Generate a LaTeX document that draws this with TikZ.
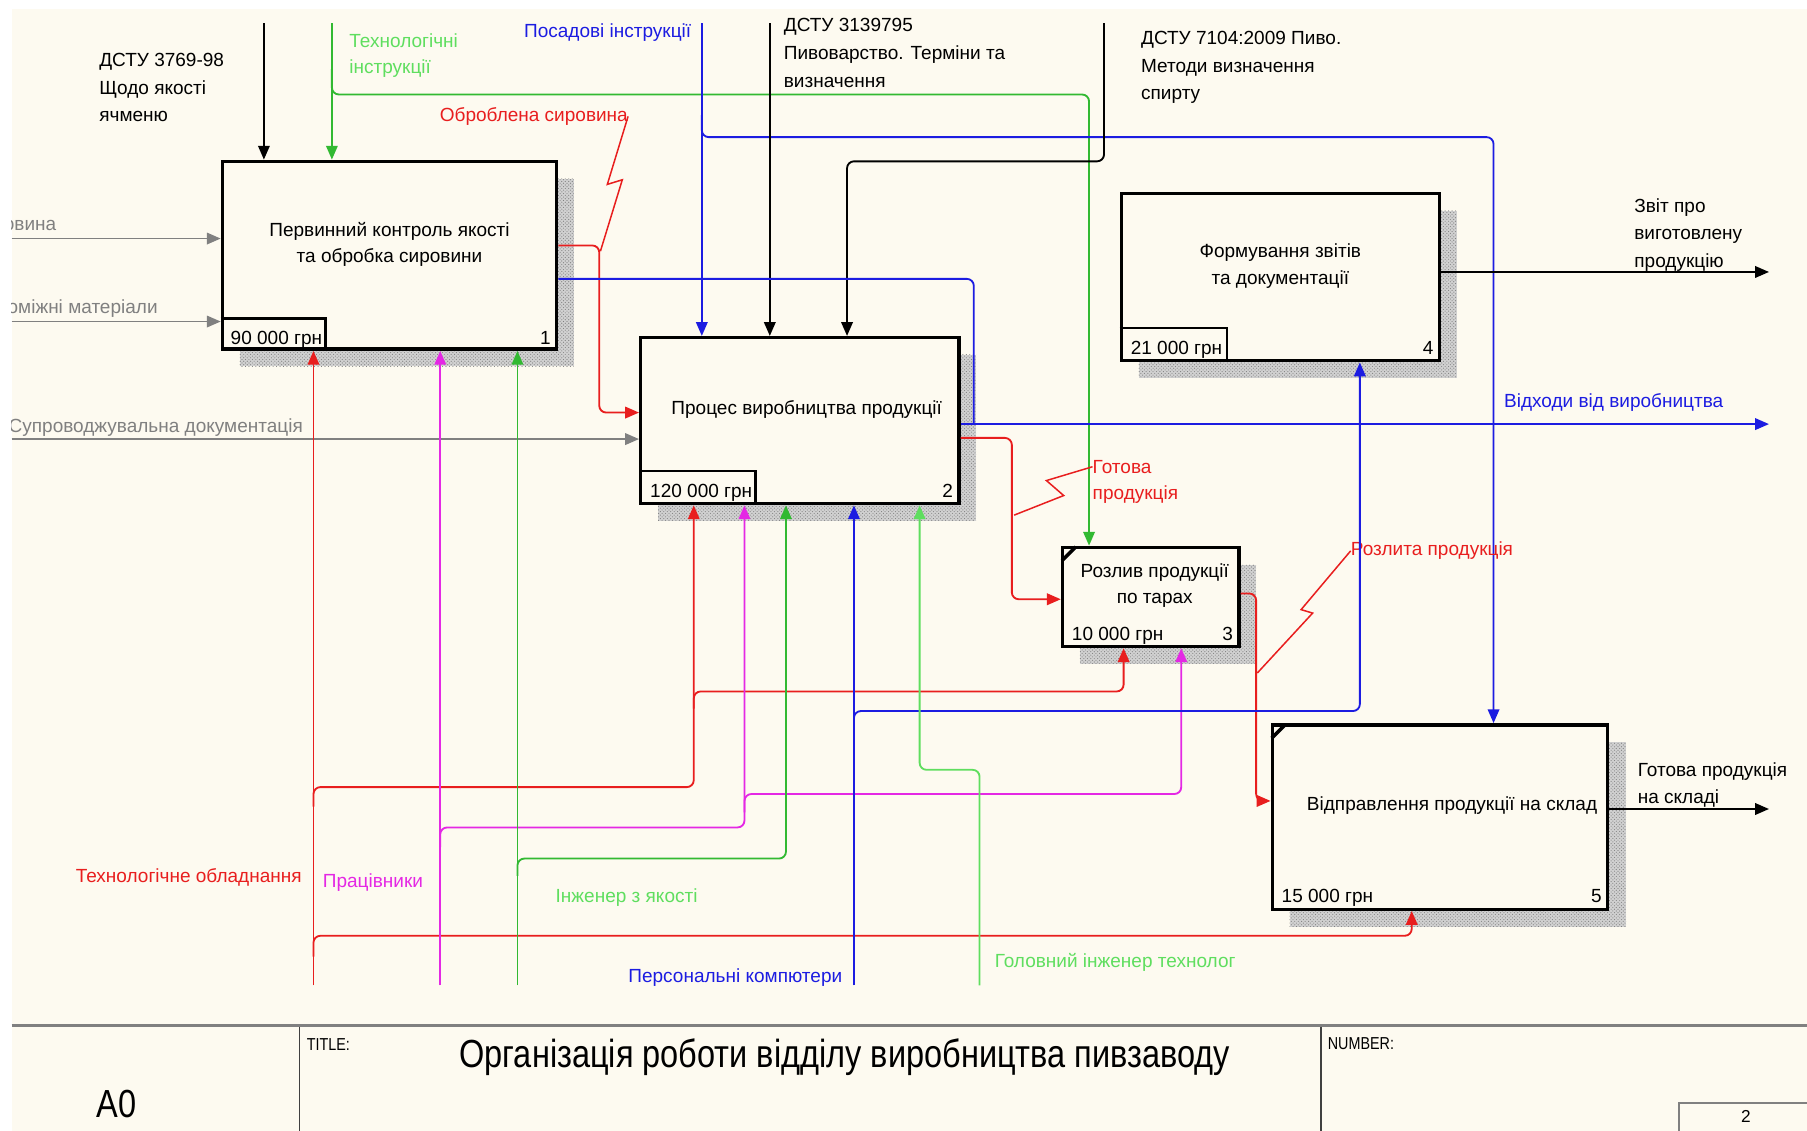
\documentclass[tikz,border=0pt]{standalone}
\usepackage{fontspec}
\setmainfont{Liberation Sans}
\newfontfamily\narrowsans[FakeStretch=0.83]{Liberation Sans}
\usetikzlibrary{arrows.meta,patterns,calc}

\definecolor{paper}{RGB}{253,250,240}
\definecolor{ired}{RGB}{232,30,30}
\definecolor{iblue}{RGB}{28,28,225}
\definecolor{imag}{RGB}{228,40,228}
\definecolor{igreen}{RGB}{50,185,50}
\definecolor{ilgreen}{RGB}{95,222,95}
\definecolor{igray}{RGB}{128,128,128}

\begin{document}
\begin{tikzpicture}[x=1pt,y=-1pt,
  tip/.style={-{Triangle[length=12pt,width=10pt]}},
  link/.style={line width=1.6pt, rounded corners=6pt},
  proc/.style={draw, line width=3pt, fill=paper, inner sep=0pt},
  shade/.style={fill=black!18, postaction={pattern=crosshatch dots, pattern color=black!50}},
  boxtext/.style={inner sep=0pt, align=center, font=\fontsize{16.5}{23}\selectfont},
  costtext/.style={inner sep=0pt, anchor=base west, font=\fontsize{16.5}{18}\selectfont},
  numtext/.style={inner sep=0pt, anchor=base east, font=\fontsize{16.5}{18}\selectfont},
  lbl/.style={inner sep=0pt, align=left, font=\fontsize{16.5}{24}\selectfont},
  lblb/.style={inner sep=0pt, align=left, font=\fontsize{16.5}{23}\selectfont},
  tab/.style={line width=2pt},
  corner/.style={line width=3pt}
]
\useasboundingbox (0,0) rectangle (1568,981);
\fill[white] (0,0) rectangle (1568,981);
\fill[paper] (10,8) rectangle (1568,981);

\begin{scope}
\clip (10,8) rectangle (1568,981);

% ---------- activity boxes with their hatched shadows ----------
\fill[shade] (208,155) rectangle (498,318);
\fill[shade] (571,308) rectangle (847,452);
\fill[shade] (937,490) rectangle (1090,576);
\fill[shade] (988,183) rectangle (1264,328);
\fill[shade] (1119,644) rectangle (1411,804);

\node[proc, minimum width=290pt, minimum height=163pt] (b1) at (338,221.5) {};
\node[proc, minimum width=276pt, minimum height=144pt] (b2) at (694,365) {};
\node[proc, minimum width=153pt, minimum height=86pt] (b3) at (998.5,518) {};
\node[proc, minimum width=276pt, minimum height=145pt] (b4) at (1111,240.5) {};
\node[proc, minimum width=291pt, minimum height=160pt] (b5) at (1249.5,709) {};

\node[boxtext] (t1) at (338,212) {Первинний контроль якості\\та обробка сировини};
\node[boxtext] (t2) at (700,355) {Процес виробництва продукції};
\node[boxtext] (t3) at (1002,508) {Розлив продукції\\по тарах};
\node[boxtext] (t4) at (1111,231) {Формування звітів\\та документації};
\node[boxtext] (t5) at (1260,699) {Відправлення продукції на склад};

% cost tabs and box numbers
\draw[tab] ($(b1.south west)+(0,-28)$) -| ($(b1.south west)+(91,0)$);
\draw[tab] ($(b2.south west)+(0,-30)$) -| ($(b2.south west)+(101,0)$);
\draw[tab] ($(b4.south west)+(0,-30)$) -| ($(b4.south west)+(93,0)$);
\node[costtext] (c1) at (200,299) {90 000 грн};
\node[costtext] (c2) at (564,432) {120 000 грн};
\node[costtext] (c3) at (930,556) {10 000 грн};
\node[costtext] (c4) at (981,308) {21 000 грн};
\node[costtext] (c5) at (1112,783) {15 000 грн};
\node[numtext] (n1) at (478,299) {1};
\node[numtext] (n2) at (827,432) {2};
\node[numtext] (n3) at (1070,556) {3};
\node[numtext] (n4) at (1244,308) {4};
\node[numtext] (n5) at (1390,783) {5};
\draw[corner] ($(b3.north west)+(1,13)$) -- ($(b3.north west)+(13,1)$);
\draw[corner] ($(b5.north west)+(1,13)$) -- ($(b5.north west)+(13,1)$);

% ---------- controls from the top ----------
\draw[link,black,tip] (229,20) -- (229,0 |- b1.north);
\draw[link,igreen,tip] (288,20) -- (288,0 |- b1.north);
\draw[link,igreen,tip] (288,60) -- (288,82) -- (945,82) -- (945,0 |- b3.north);
\draw[link,iblue,tip] (609,20) -- (609,0 |- b2.north);
\draw[link,iblue,tip] (609,100) -- (609,119) -- (1296,119) -- (1296,0 |- b5.north);
\draw[link,black,tip] (668,20) -- (668,0 |- b2.north);
\draw[link,black,tip] (958,20) -- (958,140) -- (735,140) -- (735,0 |- b2.north);

\node[lbl, anchor=north west] (l1) at (86,46) {ДСТУ 3769-98\\Щодо якості\\ячменю};
\node[lblb, anchor=north west, text=ilgreen] (l2) at (303,29) {Технологічні\\інструкції};
\node[lbl, anchor=east, text=iblue] (l3) at (600,28) {Посадові інструкції};
\node[lbl, anchor=north west] (l4) at (680,16) {ДСТУ 3139795\\Пивоварство. Терміни та\\визначення};
\node[lbl, anchor=north west] (l5) at (990,27) {ДСТУ 7104:2009 Пиво.\\Методи визначення\\спирту};

% ---------- inputs from the left ----------
\draw[link,igray,tip] (10,207) -- (b1.west |- 0,207);
\draw[link,igray,tip] (10,279) -- (b1.west |- 0,279);
\draw[link,igray,tip] (10,381) -- (b2.west |- 0,381);
\node[lbl, anchor=east, text=igray] (l6) at (49,196) {Сировина};
\node[lbl, anchor=east, text=igray] (l7) at (137,268) {Допоміжні матеріали};
\node[lbl, anchor=east, text=igray] (l8) at (263,371) {Супроводжувальна документація};

% ---------- flows between activities ----------
\draw[link,ired,tip] (b1.east |- 0,213) -- (520,213) -- (520,358) -- (b2.west |- 0,358);
\node[lbl, anchor=east, text=ired] (l9) at (545,101) {Оброблена сировина};
\coordinate (z1) at (521,218);
\draw[ired, line width=1.3pt] (l9.east) -- (527,160) -- (540,156) -- (z1);

\draw[link,iblue] (b1.east |- 0,242) -- (845,242) -- (845,368);
\draw[link,iblue,tip] (b2.east |- 0,368) -- (1535,368);
\node[lbl, anchor=west, text=iblue] (l10) at (1305,349) {Відходи від виробництва};

\draw[link,ired,tip] (b2.east |- 0,380) -- (878,380) -- (878,520) -- (b3.west |- 0,520);
\node[lblb, anchor=north west, text=ired] (l11) at (948,399) {Готова\\продукція};
\coordinate (z2) at (880,447);
\draw[ired, line width=1.3pt] (948,405) -- (908,417) -- (923,430) -- (z2);

\draw[link,ired,tip] (b3.east |- 0,515) -- (1090,515) -- (1090,695) -- (b5.west |- 0,695);
\node[lbl, anchor=west, text=ired] (l12) at (1172,478) {Розлита продукція};
\coordinate (z3) at (1091,584);
\draw[ired, line width=1.3pt] (l12.west) -- (1129,529) -- (1139,532) -- (z3);

% ---------- outputs to the right ----------
\draw[link,black,tip] (b4.east |- 0,236) -- (1535,236);
\node[lbl, anchor=north west] (l13) at (1418,172) {Звіт про\\виготовлену\\продукцію};
\draw[link,black,tip] (b5.east |- 0,702) -- (1535,702);
\node[lblb, anchor=north west] (l14) at (1421,662) {Готова продукція\\на складі};

% ---------- mechanisms from the bottom ----------
\draw[link,ired,tip] (272,855) -- (272,0 |- b1.south);
\draw[link,ired,tip] (272,700) -- (272,683) -- (602,683) -- (602,0 |- b2.south);
\draw[link,ired,tip] (602,615) -- (602,600) -- (975,600) -- (975,0 |- b3.south);
\draw[link,ired,tip] (272,830) -- (272,812) -- (1225,812) -- (1225,0 |- b5.south);
\node[lbl, anchor=east, text=ired] (l15) at (262,761) {Технологічне обладнання};

\draw[link,imag,tip] (382,855) -- (382,0 |- b1.south);
\draw[link,imag,tip] (382,735) -- (382,718) -- (646,718) -- (646,0 |- b2.south);
\draw[link,imag,tip] (646,705) -- (646,689) -- (1025,689) -- (1025,0 |- b3.south);
\node[lbl, anchor=west, text=imag] (l16) at (280,766) {Працівники};

\draw[link,igreen,tip] (449,855) -- (449,0 |- b1.south);
\draw[link,igreen,tip] (449,760) -- (449,745) -- (682,745) -- (682,0 |- b2.south);
\node[lbl, anchor=west, text=ilgreen] (l17) at (482,779) {Інженер з якості};

\draw[link,iblue,tip] (741,855) -- (741,0 |- b2.south);
\draw[link,iblue,tip] (741,632) -- (741,617) -- (1180,617) -- (1180,0 |- b4.south);
\node[lbl, anchor=east, text=iblue] (l18) at (731,848) {Персональні компютери};

\draw[link,ilgreen,tip] (850,855) -- (850,668) -- (798,668) -- (798,0 |- b2.south);
\node[lbl, anchor=west, text=ilgreen] (l19) at (863,835) {Головний інженер технолог};

% ---------- title block ----------
\draw[igray, line width=3pt] (10,890) -- (1568,890);
\draw[black!75, line width=1.5pt] (260,891) -- (260,981);
\draw[black!75, line width=1.5pt] (1146,891) -- (1146,981);
\node[inner sep=0pt, font=\narrowsans\fontsize{34}{38}\selectfont] (a0) at (101,958) {A0};
\node[inner sep=0pt, anchor=west, font=\narrowsans\fontsize{15}{17}\selectfont] (tt) at (266,906) {TITLE:};
\node[inner sep=0pt, font=\narrowsans\fontsize{34}{40}\selectfont] (ttl) at (733,917) {Організація роботи відділу виробництва пивзаводу};
\node[inner sep=0pt, anchor=west, font=\narrowsans\fontsize{15}{17}\selectfont] (nb) at (1152,906) {NUMBER:};
\draw[igray, line width=1.5pt] (1457,990) -- (1457,957) -- (1580,957);
\node[inner sep=0pt, font=\fontsize{15}{17}\selectfont] (pg) at (1515,969) {2};
\end{scope}
\end{tikzpicture}
\end{document}
